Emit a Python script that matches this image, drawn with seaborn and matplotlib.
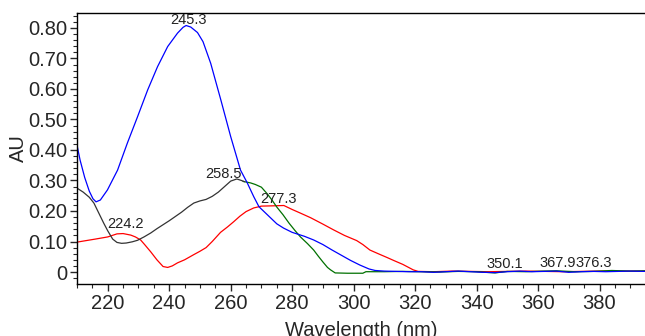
import numpy as np
import pandas as pd
import matplotlib
matplotlib.use("Agg")
import matplotlib.pyplot as plt
import seaborn as sns
from matplotlib.ticker import MultipleLocator, FuncFormatter

blue_wl = [210, 211, 212.5, 214, 215.2, 216.2, 217.6, 219.9, 223.2, 226.4, 229.7, 233, 236.2,
           239.5, 242.7, 244.5, 245.5, 247, 249.2, 251, 253.5, 256.8, 260, 263.2, 265.4, 267.5,
           269.2, 272, 275, 277.2, 280, 284, 287, 290, 293, 296, 299, 302, 305, 307, 310,
           314, 318, 322, 326, 330, 334, 338, 342, 346, 350, 354, 358, 362, 366, 370, 374,
           378, 382, 386, 390, 395]
blue_au = [0.416, 0.367, 0.31, 0.265, 0.24, 0.23, 0.236, 0.269, 0.334, 0.423, 0.509, 0.597,
           0.673, 0.739, 0.783, 0.802, 0.808, 0.803, 0.785, 0.755, 0.684, 0.564, 0.444, 0.334,
           0.292, 0.247, 0.214, 0.187, 0.158, 0.144, 0.13, 0.117, 0.105, 0.09, 0.072, 0.055,
           0.038, 0.023, 0.01, 0.005, 0.003, 0.002, 0.001, 0.001, -0.001, 0.001, 0.003, 0.001,
           -0.001, -0.002, 0.001, 0.003, 0.001, 0.002, 0.003, -0.001, 0.001, 0.002, 0.001,
           0.002, 0.003, 0.002]

black_wl = [210, 212, 214, 215.5, 217, 218.7, 220, 221.6, 223, 224.5, 226, 228, 229.7, 231.8,
            234, 236, 238, 240, 242, 244, 246, 248, 250, 252, 254, 256, 258, 260, 262, 263.5,
            264.5]
black_au = [0.275, 0.262, 0.245, 0.226, 0.195, 0.16, 0.135, 0.108, 0.097, 0.094, 0.095, 0.099,
            0.104, 0.115, 0.128, 0.142, 0.155, 0.168, 0.182, 0.196, 0.212, 0.226, 0.233, 0.238,
            0.248, 0.262, 0.28, 0.298, 0.305, 0.30, 0.296]

green_wl = [264, 266.5, 268, 270, 272, 273.5, 275, 277, 279, 281, 282.7, 285, 287, 288.5, 290,
            291.5, 292.5, 294, 298, 303, 304, 310, 316, 322, 328, 334, 340, 346, 350, 356,
            362, 366, 372, 378, 384, 390, 395]
green_au = [0.297, 0.292, 0.287, 0.278, 0.255, 0.235, 0.213, 0.188, 0.16, 0.135, 0.115, 0.093,
            0.072, 0.052, 0.033, 0.015, 0.007, -0.003, -0.004, -0.004, 0.001, 0.001, 0.002,
            0.001, 0.0, 0.002, 0.001, -0.003, 0.002, 0.001, 0.003, 0.004, 0.001, 0.002, 0.005,
            0.003, 0.004]

red_wl = [210, 213, 216, 220, 223, 225, 227.5, 229, 230.7, 232, 234, 236, 238, 239.5, 241,
          242.7, 245, 248, 250, 252, 254, 256.7, 259, 261, 263, 265, 267.5, 270, 274, 277.3,
          280, 282.7, 286, 290, 293.5, 297, 301, 303, 305.3, 308, 311, 313, 316, 319.4, 321,
          326, 332, 338, 344, 350, 356, 362, 368, 374, 380, 386, 392, 395]
red_au = [0.098, 0.103, 0.108, 0.115, 0.125, 0.126, 0.121, 0.115, 0.105, 0.09, 0.066, 0.04,
          0.018, 0.015, 0.02, 0.03, 0.04, 0.057, 0.068, 0.08, 0.1, 0.13, 0.148, 0.165, 0.183,
          0.198, 0.21, 0.216, 0.217, 0.218, 0.205, 0.193, 0.178, 0.157, 0.138, 0.12, 0.103,
          0.09, 0.072, 0.06, 0.047, 0.038, 0.025, 0.007, 0.002, 0.001, 0.003, 0.002, 0.001,
          0.002, 0.003, 0.002, 0.001, 0.002, 0.003, 0.003, 0.003, 0.003]

peak_wl = [224.2, 245.3, 258.5, 277.3, 350.1, 367.9, 376.3]
peak_au = [0.127, 0.81, 0.305, 0.218, 0.004, 0.005, 0.005]
# label nudges in pixels (dx, dy)
peak_offsets = [(5, 5), (3, 1), (-3, 1), (-5, 3), (-3, 3), (-5, 3), (6, 3)]

sns.set_style("ticks")
plt.rcParams["font.family"] = ["Liberation Sans", "DejaVu Sans"]

fig = plt.figure(figsize=(6.45, 3.36), dpi=100)
ax = fig.add_axes([77 / 645, 52 / 336, 568 / 645, 271 / 336])

series = [
    (red_wl, red_au, "#ff0000"),
    (green_wl, green_au, "#007000"),
    (blue_wl, blue_au, "#0000ff"),
    (black_wl, black_au, "#333333"),
]
for wl, au, col in series:
    d = pd.DataFrame({"wl": wl, "au": au})
    sns.lineplot(data=d, x="wl", y="au", color=col, lw=0.9, ax=ax, sort=False, estimator=None)

for w, a, (dx, dy) in zip(peak_wl, peak_au, peak_offsets):
    ax.annotate(f"{w:.1f}", (w, a), xytext=(dx, dy), textcoords="offset pixels",
                ha="center", va="baseline", fontsize=10.5, color="#222222")

ax.set_xlim(210, 394.8)
ax.set_ylim(-0.0393, 0.849)
ax.xaxis.set_major_locator(MultipleLocator(20))
ax.xaxis.set_minor_locator(MultipleLocator(5))
ax.yaxis.set_major_locator(MultipleLocator(0.1))
ax.yaxis.set_minor_locator(MultipleLocator(0.02))
ax.yaxis.set_major_formatter(FuncFormatter(lambda v, p: "0" if abs(v) < 1e-9 else f"{v:.2f}"))
ax.tick_params(which="major", length=5, width=1, labelsize=14.5, direction="out", pad=2)
ax.tick_params(which="minor", length=3, width=0.8, direction="out")
for s in ["left", "bottom", "top"]:
    ax.spines[s].set_linewidth(1)
    ax.spines[s].set_color("black")
ax.spines["right"].set_visible(False)

ax.set_xlabel("Wavelength (nm)", fontsize=14.5, labelpad=6)
ax.set_ylabel("AU", fontsize=14.5, labelpad=0)

fig.savefig("out.png", dpi=100)
